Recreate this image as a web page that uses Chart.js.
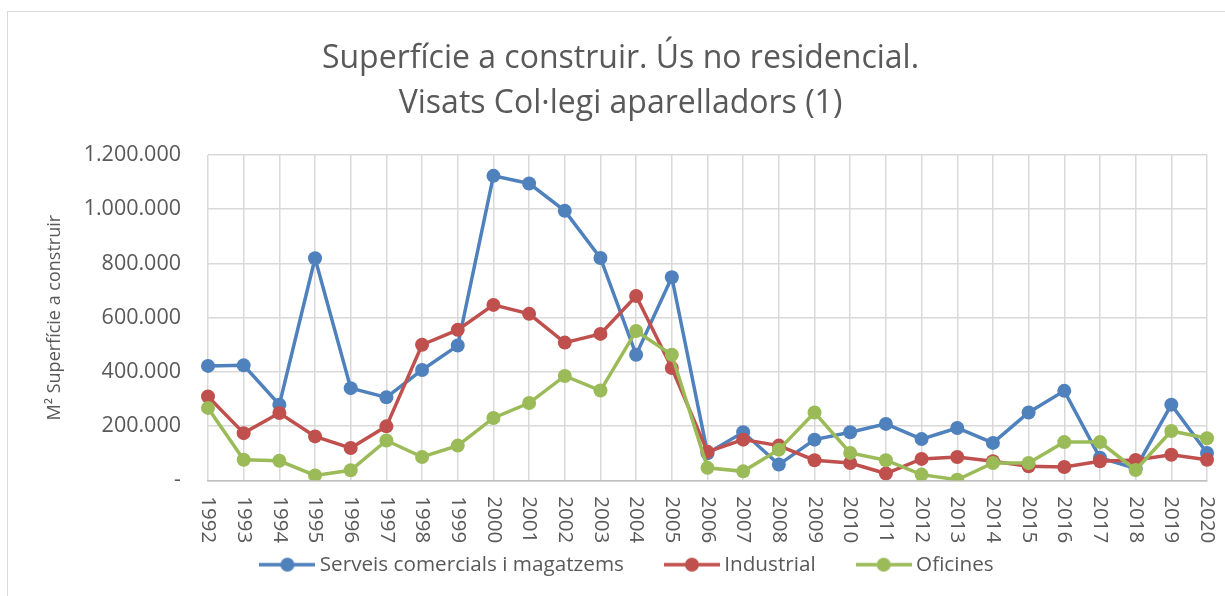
<!DOCTYPE html>
<html>
<head>
<meta charset="utf-8">
<script src="https://cdn.jsdelivr.net/npm/chart.js@4/dist/chart.umd.min.js"></script>
<style>
  html, body { margin: 0; padding: 0; background: #fff; }
  #wrap { width: 1225px; height: 596px; }
</style>
</head>
<body>
<div id="wrap"><canvas id="chart" width="1225" height="596"></canvas></div>
<script>
const years = ["1992", "1993", "1994", "1995", "1996", "1997", "1998", "1999", "2000", "2001",
  "2002", "2003", "2004", "2005", "2006", "2007", "2008", "2009", "2010", "2011",
  "2012", "2013", "2014", "2015", "2016", "2017", "2018", "2019", "2020"];

// m2
const comercials = [422000, 424000, 279000, 819000, 340000, 306000, 407000, 497000, 1123000, 1095000,
  994000, 820000, 463000, 749000, 100000, 177000, 58000, 150000, 177000, 208000,
  152000, 193000, 138000, 250000, 330000, 83000, 44000, 279000, 101000];
const industrial = [309000, 174000, 248000, 162000, 119000, 199000, 500000, 555000, 647000, 614000,
  508000, 540000, 680000, 414000, 105000, 150000, 128000, 74000, 64000, 25000,
  79000, 86000, 70000, 52000, 49000, 70000, 75000, 94000, 76000];
const oficines = [267000, 76000, 72000, 18000, 37000, 147000, 86000, 128000, 230000, 285000,
  385000, 331000, 551000, 463000, 46000, 33000, 113000, 250000, 101000, 74000,
  21000, 2000, 64000, 64000, 141000, 141000, 38000, 182000, 155000];

const seriesNames = ["Serveis comercials i magatzems", "Industrial", "Oficines"];
const colors = ["#4f81bd", "#c0504d", "#9bbb59"];

const FONT = "'Open Sans', 'DejaVu Sans', sans-serif";
const TEXT = "#595959";

function fmt(v) {
  if (v === 0) return "-";
  return String(v).replace(/\B(?=(\d{3})+(?!\d))/g, ".");
}

// little line + dot used as legend symbol
function legendMarker(color) {
  const c = document.createElement("canvas");
  c.width = 56;
  c.height = 16;
  const g = c.getContext("2d");
  g.strokeStyle = color;
  g.lineWidth = 3.5;
  g.beginPath();
  g.moveTo(0, 8);
  g.lineTo(56, 8);
  g.stroke();
  g.fillStyle = color;
  g.beginPath();
  g.arc(28, 8, 7, 0, Math.PI * 2);
  g.fill();
  return c;
}

// chart border (only left/top edge shows in the picture)
const frame = {
  id: "frame",
  beforeDraw(chart) {
    const ctx = chart.ctx;
    ctx.save();
    ctx.strokeStyle = "#d9d9d9";
    ctx.lineWidth = 1;
    ctx.strokeRect(7.5, 11.5, 1240, 620);
    ctx.restore();
  }
};

// title sits a bit more to the left than the legend in the original
const titleShift = {
  id: "titleShift",
  afterLayout(chart) {
    if (chart.titleBlock) chart.titleBlock.left -= 18;
  }
};

// year labels turned clockwise, like the original
const yearLabels = {
  id: "yearLabels",
  afterDraw(chart) {
    const ctx = chart.ctx;
    const x = chart.scales.x;
    ctx.save();
    ctx.fillStyle = TEXT;
    ctx.font = "20.5px " + FONT;
    ctx.textAlign = "left";
    ctx.textBaseline = "middle";
    years.forEach((y, i) => {
      ctx.save();
      ctx.translate(x.getPixelForValue(i), chart.chartArea.bottom + 16);
      ctx.rotate(Math.PI / 2);
      ctx.fillText(y, 0, 0);
      ctx.restore();
    });
    ctx.restore();
  }
};

const datasets = [comercials, industrial, oficines].map((data, i) => ({
  label: seriesNames[i],
  data,
  borderColor: colors[i],
  backgroundColor: colors[i],
  borderWidth: 3.5,
  pointRadius: 7,
  pointHoverRadius: 7,
  pointBorderWidth: 0,
  order: 3 - i,
  tension: 0
}));

new Chart(document.getElementById("chart"), {
  type: "line",
  data: { labels: years, datasets },
  plugins: [frame, titleShift, yearLabels],
  options: {
    responsive: false,
    animation: false,
    layout: { padding: { left: 52, right: 18, top: 12, bottom: 11 } },
    plugins: {
      tooltip: { enabled: false },
      title: {
        display: true,
        text: ["Superfície a construir. Ús no residencial.", "Visats Col·legi aparelladors (1)"],
        color: TEXT,
        font: { family: FONT, size: 32, weight: "normal", lineHeight: 1.4 },
        padding: { top: 24.5, bottom: 28.9 }
      },
      legend: {
        position: "bottom",
        labels: {
          usePointStyle: true,
          pointStyleWidth: 44,
          padding: 46,
          color: TEXT,
          font: { family: FONT, size: 20.7 },
          generateLabels(chart) {
            return chart.data.datasets.map((ds, i) => ({
              text: ds.label,
              fillStyle: colors[i],
              strokeStyle: colors[i],
              pointStyle: legendMarker(colors[i]),
              datasetIndex: i,
              hidden: false,
              lineWidth: 0,
              fontColor: TEXT
            }));
          }
        }
      }
    },
    scales: {
      x: {
        offset: false,
        grid: { color: "#d9d9d9", lineWidth: 1.5, drawTicks: false },
        border: { color: "#bfbfbf", width: 1.5 },
        ticks: { display: false },
        afterFit(s) { s.height = 28; }
      },
      y: {
        min: 0,
        max: 1200000,
        grid: { color: "#d9d9d9", lineWidth: 1.5, drawTicks: false },
        border: { display: false },
        ticks: {
          stepSize: 200000,
          padding: 27,
          color: TEXT,
          font: { family: FONT, size: 21.5 },
          callback: v => fmt(v)
        },
        title: {
          display: true,
          text: "M² Superfície a construir",
          color: TEXT,
          font: { family: FONT, size: 18 },
          padding: { top: -8, bottom: 0 }
        },
        afterFit(s) { s.width = 156; }
      }
    }
  }
});
</script>
</body>
</html>
